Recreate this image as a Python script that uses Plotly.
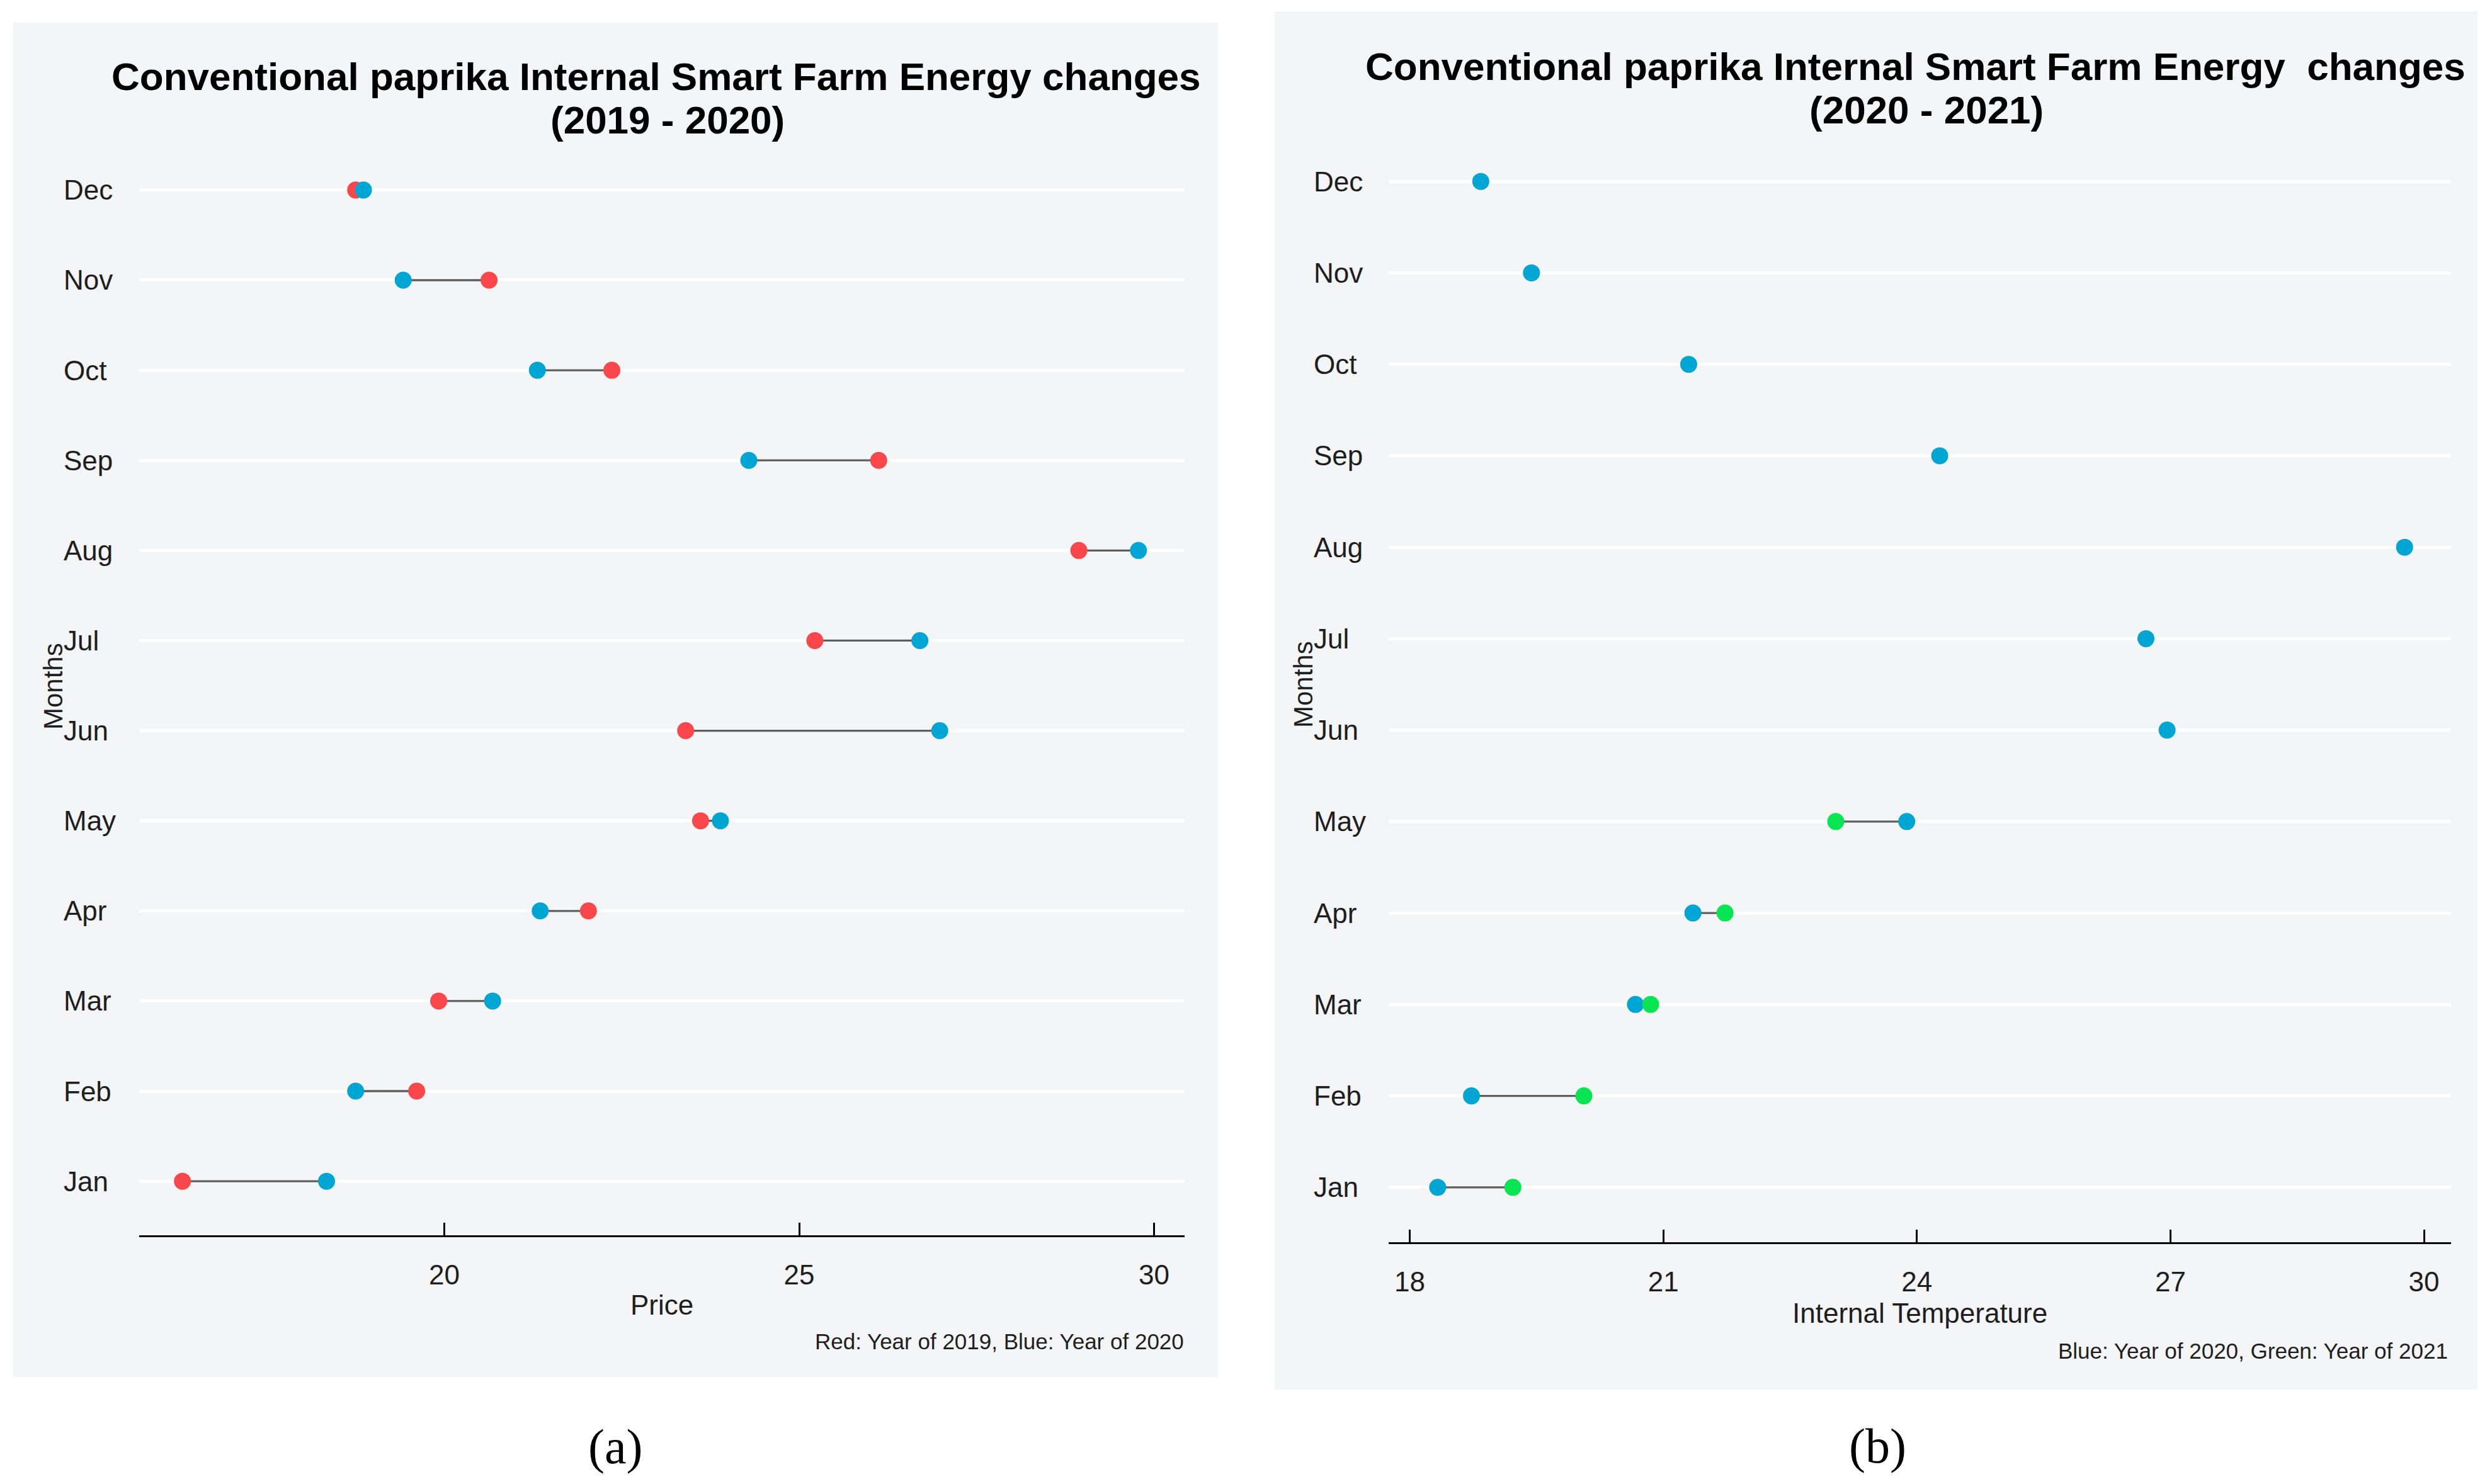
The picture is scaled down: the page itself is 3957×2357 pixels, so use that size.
import plotly.graph_objects as go

W, H = 3957, 2357
OFF = 8                      # default page margin of the HTML body
FW, FH = W - 2 * OFF, H - 2 * OFF

months = ["Jan", "Feb", "Mar", "Apr", "May", "Jun", "Jul", "Aug", "Sep", "Oct", "Nov", "Dec"]

# Panel (a): 2019 (red) vs 2020 (blue)
a_2019 = [16.31, 19.61, 19.92, 22.03, 23.61, 23.40, 25.22, 28.94, 26.12, 22.36, 20.63, 18.75]
a_2020 = [18.34, 18.75, 20.68, 21.35, 23.89, 26.98, 26.70, 29.78, 24.29, 21.31, 19.42, 18.86]
a_ticks = [20, 25, 30]

# Panel (b): 2020 (blue) vs 2021 (green)
b_2020 = [18.33, 18.73, 20.67, 21.35, 23.88, 26.96, 26.71, 29.77, 24.27, 21.30, 19.44, 18.84]
b_2021 = [19.22, 20.06, 20.85, 21.73, 23.04, None, None, None, None, None, None, None]
b_ticks = [18, 21, 24, 27, 30]

title_a = ["Conventional paprika Internal Smart Farm Energy changes", "(2019 - 2020)"]
title_b = ["Conventional paprika Internal Smart Farm Energy  changes", "(2020 - 2021)"]
xlab_a = "Price"
xlab_b = "Internal Temperature"
ylab = "Months"
cap_a = "Red: Year of 2019, Blue: Year of 2020"
cap_b = "Blue: Year of 2020, Green: Year of 2021"

RED = "#F9474C"
BLUE = "#00A6D3"
GREEN = "#08E552"
SEG = "#5E5E5E"
BG = "#F4F5F7"
FONT = "Liberation Sans"
TXT = "#1E1E1E"


def px(x):
    return (x - OFF) / FW


def py(y):
    return 1 - (y - OFF) / FH


fig = go.Figure()


def segments(v1, v2, xa, ya):
    xs, ys = [], []
    for m, p, q in zip(months, v1, v2):
        if p is None or q is None:
            continue
        xs += [p, q, None]
        ys += [m, m, None]
    fig.add_trace(go.Scatter(x=xs, y=ys, mode="lines", line=dict(color=SEG, width=3.3),
                             xaxis=xa, yaxis=ya, showlegend=False, hoverinfo="skip"))


def dots(vals, color, xa, ya):
    xs = [v for v in vals if v is not None]
    ys = [m for m, v in zip(months, vals) if v is not None]
    fig.add_trace(go.Scatter(x=xs, y=ys, mode="markers",
                             marker=dict(color=color, size=27, line=dict(width=0)),
                             xaxis=xa, yaxis=ya, showlegend=False))


segments(a_2019, a_2020, "x", "y")
dots(a_2019, RED, "x", "y")
dots(a_2020, BLUE, "x", "y")

segments(b_2020, b_2021, "x2", "y2")
dots(b_2020, BLUE, "x2", "y2")
dots(b_2021, GREEN, "x2", "y2")

xcommon = dict(showline=True, linecolor="black", linewidth=3.3, ticks="inside", ticklen=20,
               tickwidth=2.7, tickcolor="black", showgrid=False, zeroline=False,
               tickfont=dict(family=FONT, size=44, color=TXT), ticklabelstandoff=22)
ycommon = dict(type="category", categoryorder="array", categoryarray=months, range=[-0.6, 11.6],
               showgrid=True, gridcolor="white", gridwidth=5, showticklabels=False,
               zeroline=False, showline=False, ticks="")

fig.update_layout(
    width=FW, height=FH, autosize=False,
    margin=dict(l=0, r=0, t=0, b=0),
    paper_bgcolor="white", plot_bgcolor="rgba(0,0,0,0)",
    xaxis=dict(domain=[px(221), px(1881)], range=[15.70, 30.43], tickvals=a_ticks, anchor="y", **xcommon),
    yaxis=dict(domain=[py(1962), py(216)], anchor="x", **ycommon),
    xaxis2=dict(domain=[px(2205), px(3892)], range=[17.75, 30.32], tickvals=b_ticks, anchor="y2", **xcommon),
    yaxis2=dict(domain=[py(1973), py(201)], anchor="x2", **ycommon),
)

# panel backgrounds
fig.add_shape(type="rect", xref="paper", yref="paper", x0=px(21), x1=px(1934), y0=py(2187), y1=py(36),
              fillcolor=BG, line=dict(width=0), layer="below")
fig.add_shape(type="rect", xref="paper", yref="paper", x0=px(2024), x1=px(3934), y0=py(2207), y1=py(18),
              fillcolor=BG, line=dict(width=0), layer="below")


def ann(text, x, y, size, xanchor="center", yanchor="middle", bold=False, angle=0, family=FONT,
        xref="paper", yref="paper", color=TXT):
    t = f"<b>{text}</b>" if bold else text
    fig.add_annotation(text=t, x=x, y=y, xref=xref, yref=yref, xanchor=xanchor, yanchor=yanchor,
                       showarrow=False, textangle=angle, font=dict(family=family, size=size, color=color))


# titles
ann(title_a[0], px(1042), py(122), 62, bold=True, color="black")
ann(title_a[1], px(1060), py(190), 62, bold=True, color="black")
ann(title_b[0], px(3041), py(105), 62, bold=True, color="black")
ann(title_b[1], px(3059), py(175), 62, bold=True, color="black")

# month labels (left aligned)
for m in months:
    ann(m, px(99), m, 44, xanchor="left", yref="y")
    ann(m, px(2084), m, 44, xanchor="left", yref="y2")

# axis titles
ann(ylab, px(84), py(1090), 42, angle=-90)
ann(ylab, px(2069), py(1087), 42, angle=-90)
ann(xlab_a, px(1051), py(2072), 44)
ann(xlab_b, px(3048), py(2085), 44)

# captions
ann(cap_a, px(1882), py(2130), 35, xanchor="right")
ann(cap_b, px(3889), py(2145), 35, xanchor="right")

# sub-figure labels
ann("(a)", px(977), py(2297), 78, family="Liberation Serif", color="black")
ann("(b)", px(2981), py(2296), 78, family="Liberation Serif", color="black")

fig.write_html("out.html")
